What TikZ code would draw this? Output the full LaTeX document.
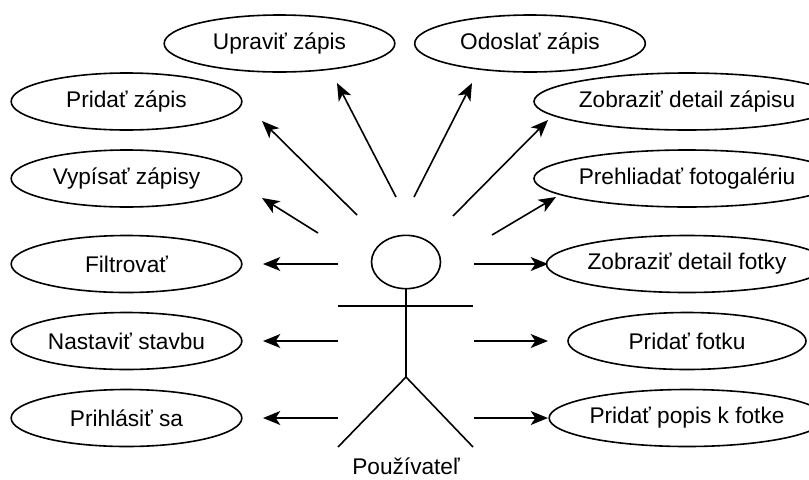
\documentclass[tikz,border=0pt]{standalone}
\usepackage{fontspec}
\setmainfont{Liberation Sans}
\usetikzlibrary{shapes.geometric,arrows.meta}
\begin{document}
\begin{tikzpicture}[x=0.75pt,y=-0.75pt,line width=1.2pt,>={Stealth[length=13pt,width=10.5pt,inset=3.5pt]},
    usecase/.style={draw,ellipse,minimum width=173pt,minimum height=42.75pt,inner sep=0pt,font=\fontsize{17}{20}\selectfont},
    wide/.style={minimum width=178.5pt}]
\useasboundingbox(0,0)rectangle(809,479);
\node[usecase](upravit)at(279.5,43.5){Upraviť zápis};
\node[usecase](odoslat)at(530,43.5){Odoslať zápis};
\node[usecase](pridatzapis)at(126.5,101.5){Pridať zápis};
\node[usecase](vypisat)at(126.5,178.5){Vypísať zápisy};
\node[usecase](filtrovat)at(126.5,264){Filtrovať};
\node[usecase](nastavit)at(126.5,341){Nastaviť stavbu};
\node[usecase](prihlasit)at(126.5,418){Prihlásiť sa};
\node[usecase,wide](detailzapisu)at(687,101.5){Zobraziť detail zápisu};
\node[usecase,wide](galeria)at(687,178.5){Prehliadať fotogalériu};
\node[usecase,wide](detailfotky)at(687,264){Zobraziť detail fotky};
\node[usecase,wide](pridatfotku)at(687,341){Pridať fotku};
\node[usecase,wide](popis)at(687,418){Pridať popis k fotke};
\node[draw,ellipse,minimum width=51.75pt,minimum height=40pt,inner sep=0pt](head)at(406,262){};
\coordinate(hip)at(406,377);
\draw(head.south)--(hip);
\draw(338,306)coordinate(lhand)--(473,306)coordinate(rhand);
\draw(338,447)coordinate(lfoot)--(hip)--(473,447)coordinate(rfoot);
\node[font=\fontsize{17}{20}\selectfont](actor)at(406,466){Používateľ};
\foreach \sx/\sy/\tx/\ty[count=\i] in {318/233/262/198,357/215/262/121,396/197/337/83,414/197/472/83,
    453/216/548/120,492/235/556/197,338/264/263/264,338/341/263/341,338/418/263/418,
    474/264/548/264,474/341/548/341,474/418/548/418}{
  \coordinate(s\i)at(\sx,\sy);
  \coordinate(t\i)at(\tx,\ty);
  \draw[->](s\i)--(t\i);
}
\end{tikzpicture}
\end{document}
